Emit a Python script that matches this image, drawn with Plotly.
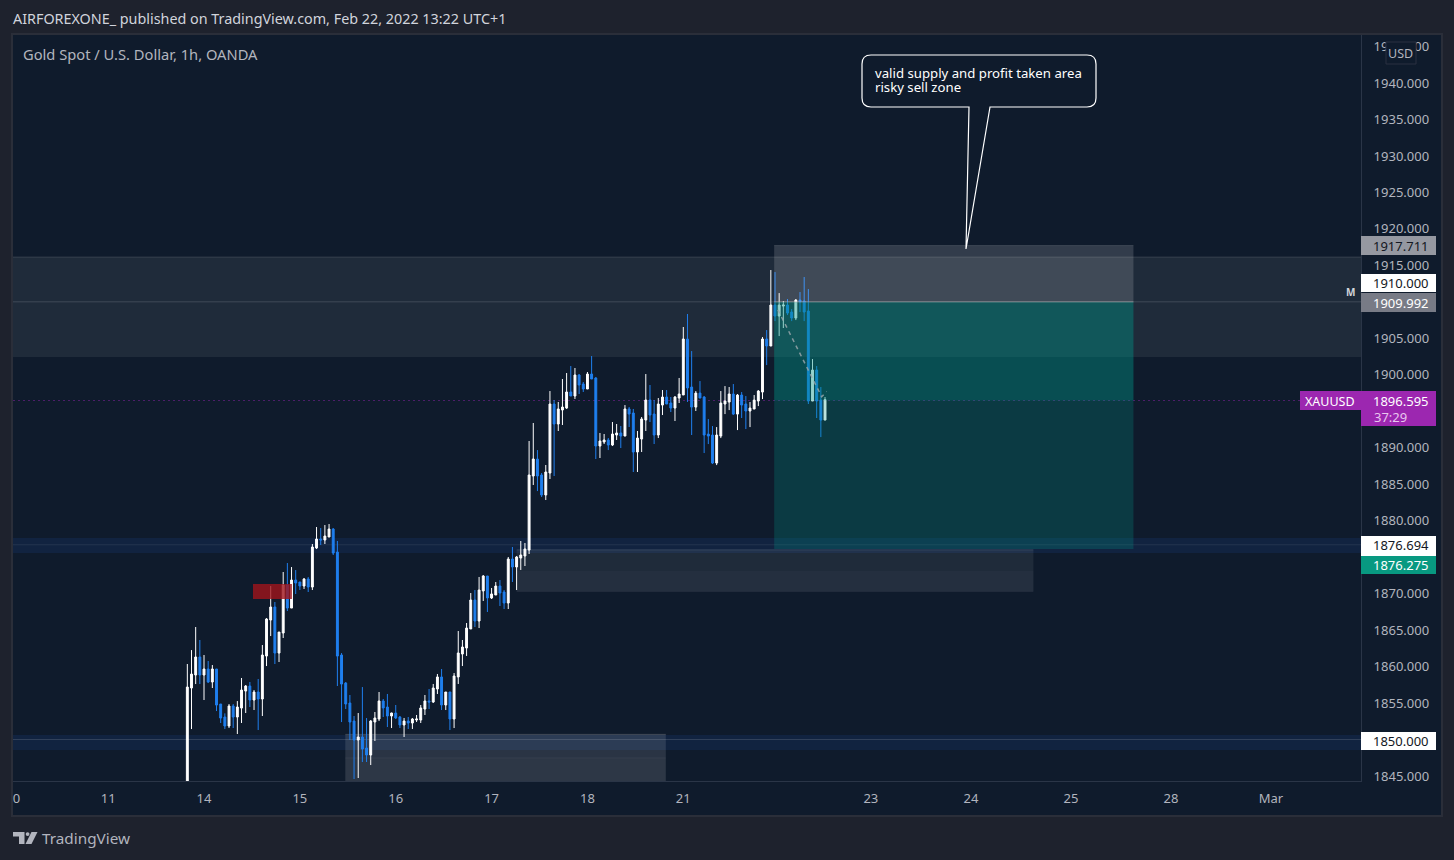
import plotly.graph_objects as go

# ---------- price data (hourly bars, Gold Spot / USD) ----------
opens = [1838,1857.06,1858.84,1861.31,1858.84,1859.66,1857.88,1859.66,1854.86,1853.08,
 1851.85,1854.59,1853.08,1854.31,1856.64,1857.33,1855.41,1856.51,1855.55,1861.44,
 1866.38,1868.16,1861.85,1864.60,1871.18,1868.02,1871.86,1871.59,1871.04,1872.00,
 1870.90,1876.25,1877.48,1877.35,1877.76,1878.85,1875.70,1861.58,1857.74,1855.00,
 1852.53,1849.93,1850.34,1848.83,1847.87,1852.40,1852.81,1855.28,1854.45,1853.22,
 1853.63,1853.08,1851.99,1852.53,1852.26,1852.67,1852.67,1854.18,1855.28,1855.14,
 1856.92,1858.57,1854.73,1856.51,1852.81,1858.57,1861.72,1862.54,1865.15,1869.12,
 1866.24,1870.36,1872.41,1869.40,1869.81,1871.04,1870.22,1868.71,1874.74,1873.65,
 1874.88,1875.16,1875.97,1886.12,1888.45,1886.26,1883.52,1886.53,1895.99,1893.25,
 1895.17,1895.44,1897.64,1897.09,1899.97,1898.73,1898.05,1900.10,1899.56,1890.23,
 1890.78,1891.06,1890.37,1891.74,1892.02,1891.60,1895.31,1894.76,1889.41,1891.19,
 1893.80,1896.54,1894.62,1891.74,1895.85,1896.95,1896.13,1895.44,1896.81,1897.23,
 1904.90,1898.32,1895.57,1897.49,1896.95,1891.87,1891.74,1887.90,1891.60,1895.99,
 1896.26,1897.36,1894.61,1897.22,1895.99,1895.03,1895.30,1896.40,1897.63,1904.90,
 1903.94,1909.56,1908.05,1909.42,1909.56,1908.60,1907.78,1910.24,1910.11,1908.74,
 1896.40,1900.65,1896.53,1893.79]
highs = [1860.35,1862.26,1865.42,1863.64,1861.58,1860.76,1860.21,1859.66,1854.86,1853.58,
 1854.86,1854.86,1855.27,1858.43,1857.47,1857.88,1856.78,1858.29,1862.95,1866.65,
 1871.04,1868.85,1864.73,1872.96,1874.19,1873.64,1873.23,1871.59,1872.14,1872.27,
 1876.80,1879.13,1878.99,1879.40,1879.54,1878.99,1877.21,1861.85,1857.88,1856.10,
 1853.22,1853.63,1857.19,1852.94,1852.67,1853.77,1856.51,1855.55,1856.24,1853.68,
 1854.73,1853.22,1852.95,1853.08,1852.95,1853.36,1854.73,1856.10,1856.92,1857.61,
 1858.98,1859.66,1856.51,1856.51,1859.11,1864.87,1863.64,1865.97,1870.08,1870.49,
 1872.28,1872.55,1872.41,1870.77,1871.59,1871.86,1870.49,1875.02,1876.39,1875.16,
 1877.21,1876.94,1890.92,1893.39,1889.68,1886.53,1887.63,1897.77,1896.54,1896.27,
 1899.42,1900.24,1901.20,1900.93,1900.10,1899.01,1900.38,1902.57,1899.69,1892.02,
 1891.88,1891.33,1893.52,1893.25,1892.98,1895.85,1895.58,1895.31,1892.29,1894.21,
 1900.10,1898.60,1896.54,1896.81,1897.91,1897.91,1896.95,1897.09,1899.56,1906.55,
 1908.33,1903.25,1897.77,1899.14,1897.08,1893.93,1892.97,1892.83,1897.77,1898.45,
 1898.32,1898.73,1897.36,1897.63,1897.08,1896.26,1897.22,1897.90,1905.17,1906.13,
 1914.36,1914.08,1911.20,1910.11,1910.38,1909.01,1910.38,1911.34,1913.40,1911.75,
 1902.16,1901.20,1898.32,1896.95]
lows = [1838,1851.43,1857.60,1857.60,1855.41,1857.74,1857.06,1853.90,1852.26,1851.43,
 1851.57,1851.57,1850.75,1852.26,1853.63,1854.45,1854.04,1851.30,1853.22,1860.07,
 1864.18,1860.35,1860.62,1863.91,1867.61,1868.02,1869.94,1870.49,1870.63,1870.22,
 1870.49,1876.11,1876.66,1876.80,1877.76,1875.29,1857.33,1852.39,1854.18,1849.93,
 1844.58,1844.72,1846.91,1846.91,1846.50,1849.79,1852.53,1853.08,1851.71,1851.57,
 1852.81,1851.57,1850.34,1851.44,1851.44,1852.40,1852.26,1853.36,1854.18,1855.00,
 1856.24,1854.04,1854.04,1851.30,1851.57,1857.61,1860.07,1861.45,1865.15,1865.42,
 1865.28,1868.99,1867.48,1869.26,1869.81,1868.30,1867.89,1867.89,1871.59,1870.49,
 1873.24,1873.78,1875.43,1884.89,1884.06,1883.24,1882.83,1885.71,1886.12,1892.29,
 1893.11,1895.31,1897.09,1896.68,1897.36,1897.64,1898.05,1899.42,1888.45,1888.59,
 1890.51,1889.68,1890.23,1891.06,1889.96,1891.60,1892.84,1886.67,1886.67,1889.41,
 1892.29,1893.52,1890.51,1891.33,1894.48,1895.99,1894.89,1893.66,1896.13,1897.23,
 1896.27,1891.74,1895.03,1896.81,1889.27,1890.50,1887.76,1887.62,1891.32,1894.61,
 1895.16,1894.48,1892.42,1894.07,1892.56,1892.83,1895.30,1895.71,1896.67,1901.33,
 1903.94,1907.36,1905.31,1906.41,1908.19,1907.36,1907.50,1908.60,1907.36,1895.99,
 1896.40,1894.07,1891.46,1893.79]
closes = [1857.19,1858.97,1861.31,1858.84,1859.66,1857.88,1859.66,1854.72,1852.94,1851.85,
 1854.59,1853.08,1854.45,1856.78,1857.33,1855.41,1856.51,1855.55,1861.58,1866.52,
 1868.16,1861.85,1864.73,1871.18,1868.02,1871.86,1871.45,1871.04,1872.00,1870.90,
 1876.39,1877.48,1877.35,1877.89,1878.85,1875.56,1861.44,1857.60,1854.86,1852.39,
 1849.93,1850.34,1848.69,1847.87,1852.53,1852.95,1855.28,1854.32,1853.22,1853.63,
 1852.95,1851.99,1852.53,1852.26,1852.81,1852.81,1854.32,1855.28,1855.14,1857.06,
 1858.57,1854.73,1856.51,1852.81,1858.70,1861.86,1862.68,1865.28,1869.12,1866.24,
 1870.49,1872.41,1869.40,1869.95,1871.04,1870.08,1868.71,1874.74,1873.65,1875.02,
 1875.29,1876.12,1886.26,1888.45,1886.12,1883.52,1886.67,1895.99,1893.25,1895.31,
 1895.58,1897.64,1897.09,1899.97,1898.60,1898.05,1900.10,1899.42,1890.23,1890.92,
 1891.06,1890.37,1891.88,1892.02,1891.60,1895.31,1894.62,1889.41,1891.33,1893.94,
 1896.54,1894.48,1891.74,1895.99,1896.95,1895.99,1895.44,1896.95,1897.36,1904.90,
 1898.19,1895.57,1897.49,1896.81,1891.74,1891.60,1887.90,1891.74,1896.12,1896.40,
 1897.36,1894.61,1897.22,1895.85,1895.03,1895.44,1896.53,1897.77,1904.90,1903.94,
 1909.56,1908.05,1909.56,1909.56,1908.46,1907.78,1910.24,1909.97,1908.60,1896.40,
 1900.65,1896.40,1893.79,1896.595]
bars = list(range(len(opens)))

# ---------- axis labels (ticks under a price tag are not drawn) ----------
price_ticks = [1845, 1855, 1860, 1865, 1870, 1880, 1885, 1890, 1900, 1905, 1915,
               1920, 1925, 1930, 1935, 1940, 1945]
price_labels = [f"{v}.000" for v in price_ticks]
day_ticks = [-41, -19, 4, 27, 50, 73, 96, 119, 164, 188, 212, 236, 260]
day_labels = ["0", "11", "14", "15", "16", "17", "18", "21", "23", "24", "25", "28", "Mar"]

# ---------- drawn levels ----------
last_price = 1896.595
target_price = 1876.275
entry_price = 1909.992
stop_price = 1917.711
level_top = 1910.0
level_mid = 1876.694
level_low = 1850.0

FONT = "Noto Sans"
PANEL = "#0f1b2c"
OUTER = "#1e222d"
GREY = "#b2b5be"
CANDLE_UP = "#ffffff"
CANDLE_DN = "#1f7fee"
W, H = 1454, 860
L, R, T, B = 13, 1361, 35, 781


def px(x):
    return (x - L) / (R - L)


def py(y):
    return (B - y) / (B - T)


shapes = []


def page_rect(x0, y0, x1, y1, fill, line=None, lw=1, layer="above"):
    shapes.append(dict(type="rect", xref="paper", yref="paper", x0=px(x0), x1=px(x1),
                       y0=py(y1), y1=py(y0), fillcolor=fill, layer=layer,
                       line=dict(color=line or fill, width=lw if line else 0)))


def zone(x0, x1, y0, y1, fill, layer="below"):
    shapes.append(dict(type="rect", xref="x", yref="y", x0=x0, x1=x1, y0=y0, y1=y1,
                       fillcolor=fill, line=dict(width=0), layer=layer))


def level(x0, x1, y, color, width=1, dash="solid", layer="below"):
    shapes.append(dict(type="line", xref="x", yref="y", x0=x0, x1=x1, y0=y, y1=y,
                       line=dict(color=color, width=width, dash=dash), layer=layer))


XMIN, XMAX = -41.83, 281.6

# panel behind everything
page_rect(12, 34, 1442, 816, PANEL, "#2a2e39", 2, "below")

# horizontal supply / demand bands
zone(XMIN, XMAX, 1902.44, 1916.14, "rgba(255,255,255,0.07)")
level(XMIN, XMAX, 1916.14, "rgba(255,255,255,0.12)")
level(XMIN, XMAX, level_top, "rgba(255,255,255,0.15)")
zone(XMIN, XMAX, 1875.57, 1877.62, "rgba(33,100,210,0.12)")
level(XMIN, XMAX, level_mid, "rgba(255,255,255,0.08)")
zone(XMIN, XMAX, 1848.56, 1850.62, "rgba(33,100,210,0.12)")
level(XMIN, XMAX, level_low, "rgba(255,255,255,0.14)")

# grey order blocks (each one is a two-tone box)
zone(79, 203, 1873.1, 1876.0, "rgba(255,255,255,0.07)")
zone(79, 203, 1870.3, 1873.1, "rgba(255,255,255,0.09)")
level(79, 203, 1876.0, "rgba(255,255,255,0.12)")
level(79, 203, 1870.3, "rgba(255,255,255,0.04)")
zone(37.9, 114.8, 1847.47, 1850.7, "rgba(255,255,255,0.115)")
zone(37.9, 114.8, 1844.31, 1847.47, "rgba(255,255,255,0.125)")
level(37.9, 114.8, 1850.7, "rgba(255,255,255,0.16)")
level(37.9, 114.8, 1847.47, "rgba(255,255,255,0.05)")

# current price dotted line
level(XMIN, XMAX, last_price - 0.12, "rgba(142,36,170,0.5)", 1, "2px,3px")

# red box over the candles
zone(15.75, 25.1, 1869.26, 1871.32, "rgba(160,20,28,0.8)", "above")

# short position tool over the candles
zone(140.8, 227, entry_price, stop_price, "rgba(255,255,255,0.15)", "above")
level(140.8, 227, stop_price, "rgba(255,255,255,0.12)", layer="above")
zone(140.8, 227, target_price - 0.15, entry_price, "rgba(0,150,136,0.25)", "above")
zone(140.8, 227, last_price - 0.12, entry_price, "rgba(0,150,136,0.22)", "above")
level(140.8, 227, entry_price, "rgba(170,175,180,0.55)", layer="above")

# trade path, dashed
shapes.append(dict(type="path", xref="x", yref="y", layer="above",
                   path="M 141.7 1908.9 L 152.2 1897.0 L 153.4 1897.7",
                   line=dict(color="rgba(150,165,170,0.85)", width=1.5, dash="4px,4px")))

# callout bubble with its pointer
cx0, cx1, cy0, cy1, r = 862, 1096, 55, 107, 9
bubble = (f"M {px(cx0 + r)} {py(cy0)} L {px(cx1 - r)} {py(cy0)} "
          f"Q {px(cx1)} {py(cy0)} {px(cx1)} {py(cy0 + r)} L {px(cx1)} {py(cy1 - r)} "
          f"Q {px(cx1)} {py(cy1)} {px(cx1 - r)} {py(cy1)} L {px(990)} {py(cy1)} "
          f"L {px(966)} {py(249)} L {px(969)} {py(cy1)} L {px(cx0 + r)} {py(cy1)} "
          f"Q {px(cx0)} {py(cy1)} {px(cx0)} {py(cy1 - r)} L {px(cx0)} {py(cy0 + r)} "
          f"Q {px(cx0)} {py(cy0)} {px(cx0 + r)} {py(cy0)} Z")
shapes.append(dict(type="path", xref="paper", yref="paper", layer="above", path=bubble,
                   fillcolor=PANEL, line=dict(color="#ffffff", width=1.2)))

# price axis tags
LBL_X0, LBL_X1 = 1361, 1436
page_rect(LBL_X0, 236, LBL_X1, 255, "#9598a1")
page_rect(LBL_X0, 274, LBL_X1, 292, "#ffffff")
page_rect(LBL_X0, 293, LBL_X1, 312, "#787b86")
page_rect(1300, 391, LBL_X0, 410, "#9c27b0")
page_rect(LBL_X0, 391, LBL_X1, 426, "#9c27b0")
page_rect(LBL_X0, 536, LBL_X1, 556, "#ffffff")
page_rect(LBL_X0, 556, LBL_X1, 574, "#089981")
page_rect(LBL_X0, 732, LBL_X1, 750, "#ffffff")
page_rect(1386, 42, 1416, 64, PANEL, "#2a3040", 1)

# logo
shapes.append(dict(type="path", xref="paper", yref="paper", layer="above",
                   path=(f"M {px(13)} {py(832)} L {px(24.5)} {py(832)} L {px(24.5)} {py(844)} "
                         f"L {px(19)} {py(844)} L {px(19)} {py(836.5)} L {px(13)} {py(836.5)} Z"),
                   fillcolor=GREY, line=dict(width=0)))
shapes.append(dict(type="path", xref="paper", yref="paper", layer="above",
                   path=(f"M {px(31.5)} {py(832)} L {px(37.5)} {py(832)} L {px(31.5)} {py(844)} "
                         f"L {px(25.5)} {py(844)} Z"),
                   fillcolor=GREY, line=dict(width=0)))
shapes.append(dict(type="circle", xref="paper", yref="paper", layer="above",
                   x0=px(25.7), x1=px(29.5), y0=py(836), y1=py(832.2),
                   fillcolor=GREY, line=dict(width=0)))


def label(x, y, text, color, size=13, anchor="left", bold=False):
    return dict(xref="paper", yref="paper", x=px(x), y=py(y), text=f"<b>{text}</b>" if bold else text,
                showarrow=False, xanchor=anchor, yanchor="middle",
                font=dict(family=FONT, size=size, color=color))


annotations = [
    label(11, 19, "AIRFOREXONE_ published on TradingView.com, Feb 22, 2022 13:22 UTC+1", "#d1d4dc", 14.35),
    label(21, 54, "Gold Spot / U.S. Dollar, 1h, OANDA", GREY, 14.7),
    label(40, 838, "TradingView", GREY, 15.3),
    label(873, 73, "valid supply and profit taken area", "#ffffff", 13.2),
    label(873, 87, "risky sell zone", "#ffffff", 13.2),
    label(1401, 246, f"{stop_price:.3f}", "#131722", 13, "center"),
    label(1401, 283, f"{level_top:.3f}", "#131722", 13, "center"),
    label(1401, 303, f"{entry_price:.3f}", "#ffffff", 13, "center"),
    label(1303, 401, "XAUUSD", "#ffffff", 12.5),
    label(1401, 401, f"{last_price:.3f}", "#ffffff", 13, "center"),
    label(1372, 417, "37:29", "#e8c6ee", 13),
    label(1401, 545, f"{level_mid:.3f}", "#131722", 13, "center"),
    label(1401, 565, f"{target_price:.3f}", "#ffffff", 13, "center"),
    label(1401, 741, f"{level_low:.3f}", "#131722", 13, "center"),
    label(1401, 53, "USD", GREY, 12.5, "center"),
    label(1350, 292, "M", "#d1d4dc", 10, "center", bold=True),
]

fig = go.Figure(go.Candlestick(
    x=bars, open=opens, high=highs, low=lows, close=closes,
    increasing=dict(line=dict(color=CANDLE_UP, width=1), fillcolor=CANDLE_UP),
    decreasing=dict(line=dict(color=CANDLE_DN, width=1), fillcolor=CANDLE_DN),
    whiskerwidth=0, hoverinfo="skip", showlegend=False,
))

fig.update_layout(
    width=W, height=H, autosize=False,
    margin=dict(l=L, r=W - R, t=T, b=H - B, pad=0),
    paper_bgcolor=OUTER, plot_bgcolor=PANEL,
    boxgap=0.35, showlegend=False,
    font=dict(family=FONT, size=13, color=GREY),
    shapes=shapes, annotations=annotations,
    xaxis=dict(range=[XMIN, XMAX], rangeslider=dict(visible=False), tickmode="array",
               tickvals=day_ticks, ticktext=day_labels, showgrid=False, zeroline=False,
               showline=True, linecolor="#2a3547", linewidth=1, ticks="",
               ticklabelstandoff=5, tickangle=0,
               tickfont=dict(family=FONT, size=13, color=GREY)),
    yaxis=dict(range=[1844.31, 1946.58], side="right", tickmode="array",
               tickvals=price_ticks, ticktext=price_labels, showgrid=False, zeroline=False,
               showline=True, linecolor="#2a3547", linewidth=1, ticks="",
               ticklabelstandoff=9,
               tickfont=dict(family=FONT, size=13, color=GREY)),
)

fig.write_html("out.html", config=dict(displayModeBar=False),
               post_script="document.body.style.margin='0';document.body.style.overflow='hidden';")
